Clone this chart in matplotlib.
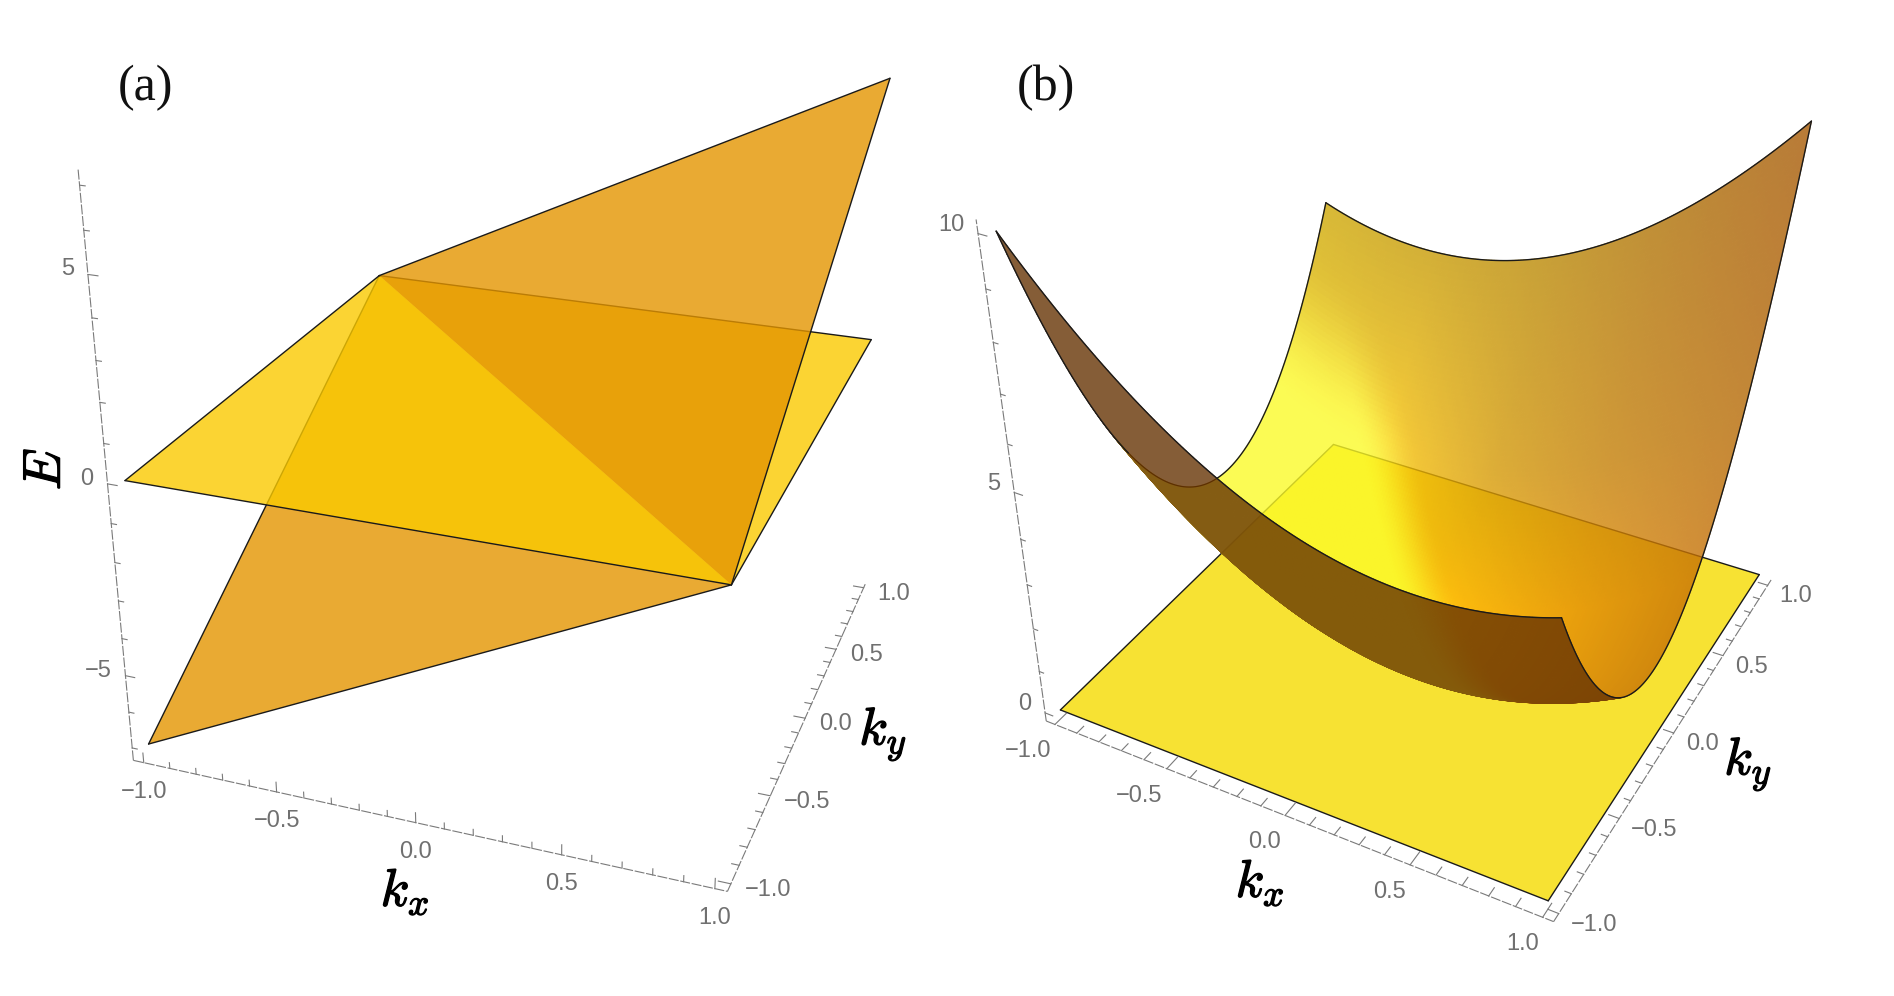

import numpy as np
import matplotlib
matplotlib.use('Agg')
import matplotlib.pyplot as plt
import matplotlib.patheffects as pe
from matplotlib.transforms import offset_copy
from mpl_toolkits.mplot3d import proj3d
from mpl_toolkits.mplot3d.art3d import Poly3DCollection

plt.rcParams['font.family'] = ['Liberation Sans', 'DejaVu Sans']
plt.rcParams['mathtext.fontset'] = 'cm'

# ---- data ----
k_limit = 1.04                       # plot-box half width in kx and ky
k_corners = [-1.0, 1.0]
k_major = [-1.0, -0.5, 0.0, 0.5, 1.0]
k_minor = [-0.9, -0.8, -0.7, -0.6, -0.4, -0.3, -0.2, -0.1,
           0.1, 0.2, 0.3, 0.4, 0.6, 0.7, 0.8, 0.9]
k_labels = ['−1.0', '−0.5', '0.0', '0.5', '1.0']

# panel (a): flat band E=0 and tilted band E = slope*(kx+ky)
a_slope = 3.5
a_E_limits = (-7.35, 7.35)
a_E_major = [-5, 0, 5]
a_E_minor = [-7, -6, -4, -3, -2, -1, 1, 2, 3, 4, 6, 7]
a_E_labels = ['−5', '0', '5']

# panel (b): flat band E=0 and E = cxx kx^2 + cyy ky^2 + cxy kx ky
b_cxx, b_cyy, b_cxy = 2.0, 6.0, 2.0
b_E_limits = (-0.2, 10.25)
b_E_major = [0, 5, 10]
b_E_minor = [1, 2, 3, 4, 6, 7, 8, 9]
b_E_labels = ['0', '5', '10']

# surface colours on the upper side of panel (b) at control points
shade_kx = [-1.0, -0.5, 0.0, 0.5, 1.0]
shade_ky = [0.2, 0.6, 1.0]
shade_R = [[250, 251, 255, 232, 200], [240, 249, 212, 195, 180], [206, 200, 186, 175, 166]]
shade_G = [[205, 200, 180, 145, 114], [200, 195, 152, 125, 105], [167, 155, 136, 112, 89]]

# ---- styles ----
ALPHA = 0.8
LAYER_FADE = 0.8**0.5
A_FLAT = (250/255, 202/255, 0, ALPHA)
A_TILT = (228/255, 149/255, 0, ALPHA)
B_FLAT = (246/255, 219/255, 0, ALPHA)
B_UNDER = (102, 51, 3)
B_YELLOW = (251, 250, 40)
EDGE = '#1a1a1a'
AXC = '#7a7a7a'
TICKC = '#707070'
FS = 17

fig = plt.figure(figsize=(18.94, 9.96), dpi=100)
W_PX, H_PX = 1894.0, 996.0


def make_axes(view, scale, tx, ty, zlim):
    el, az, ro, f, za = view
    ax = fig.add_axes([0, 0, 1, 1], projection='3d', computed_zorder=False)
    ax.set_xlim(-k_limit, k_limit)
    ax.set_ylim(-k_limit, k_limit)
    ax.set_zlim(*zlim)
    ax.set_box_aspect((1, 1, za))
    ax.view_init(el, az, ro)
    ax.set_proj_type('persp', focal_length=f)
    ax.set_axis_off()
    ax.set_xticks([]); ax.set_yticks([]); ax.set_zticks([])
    x0, y0, w, h = ax.viewLim.bounds
    wpx = w*scale
    left = tx + x0*scale
    bottom_from_top = ty - y0*scale
    ax.set_position([left/W_PX, (H_PX - bottom_from_top)/H_PX, wpx/W_PX, wpx/H_PX])
    return ax


def text_px(ax, x, y, z, s, ox, oy, **kw):
    tr = offset_copy(ax.transData, fig=fig, x=ox, y=-oy, units='dots')
    ax.text(x, y, z, s, transform=tr, color=TICKC, fontsize=FS, zorder=50, **kw)


def draw_axes(ax, zlim, E_major, E_minor, E_labels, kx_dir, ky_len, E_len, kx_off, ky_off, E_off, kx_ha):
    p = k_limit
    zb, zt = zlim
    line = dict(color=AXC, lw=0.8, zorder=40)
    dash = dict(linestyle=(0, (9, 1.5)), **line)
    ax.plot([-p, -p], [-p, -p], [zb, zt], **dash)
    ax.plot([-p, p], [-p, -p], [zb, zb], **dash)
    ax.plot([p, p], [-p, p], [zb, zb], **dash)
    for vals, frac in ((k_major, 1.0), (k_minor, 0.6)):
        for v in vals:
            d = np.array(kx_dir)*frac
            ax.plot([v, v+d[0]], [-p, -p+d[1]], [zb, zb+d[2]], **line)
            ax.plot([p, p-ky_len*frac], [v, v], [zb, zb], **line)
    for vals, frac in ((E_major, 1.0), (E_minor, 0.55)):
        for v in vals:
            ax.plot([-p, -p+E_len*frac], [-p, -p], [v, v], **line)
    for v, s in zip(k_major, k_labels):
        text_px(ax, v, -p, zb, s, *kx_off, ha=kx_ha, va='center')
        text_px(ax, p, v, zb, s, *ky_off, ha='left', va='center')
    for v, s in zip(E_major, E_labels):
        text_px(ax, -p, -p, v, s, *E_off, ha='right', va='center')


def edge3(ax, xs, ys, zs, z, color=EDGE, lw=1.0):
    ax.plot(xs, ys, zs, color=color, lw=lw, zorder=z, solid_capstyle='round')


# ======================= panel (a) =======================
axa = make_axes((23.9627, -69.7463, 0.0925, np.exp(-0.97632), 1.00444),
                5470.63, 526.40, 404.77, a_E_limits)
lo, hi = k_corners


def tilt(x, y):
    return a_slope*(x + y)


def tri(ax, pts, color, z):
    c = Poly3DCollection([pts], facecolors=[color], edgecolors='none',
                         linewidths=0, zorder=z, antialiased=True)
    ax.add_collection3d(c, autolim=False)


tilt_low = [(lo, lo, tilt(lo, lo)), (hi, lo, tilt(hi, lo)), (lo, hi, tilt(lo, hi))]
tilt_up = [(hi, hi, tilt(hi, hi)), (hi, lo, tilt(hi, lo)), (lo, hi, tilt(lo, hi))]
flat = [(lo, lo, 0), (hi, lo, 0), (hi, hi, 0), (lo, hi, 0)]
tri(axa, tilt_low, A_TILT, 2)
for P, Q in ((tilt_low[0], tilt_low[1]), (tilt_low[0], tilt_low[2])):
    edge3(axa, [P[0], Q[0]], [P[1], Q[1]], [P[2], Q[2]], 3)
tri(axa, flat, A_FLAT, 4)
for i in range(4):
    P, Q = flat[i], flat[(i+1) % 4]
    edge3(axa, [P[0], Q[0]], [P[1], Q[1]], [P[2], Q[2]], 5)
tri(axa, tilt_up, A_TILT, 6)
for P, Q in ((tilt_up[0], tilt_up[1]), (tilt_up[0], tilt_up[2])):
    edge3(axa, [P[0], Q[0]], [P[1], Q[1]], [P[2], Q[2]], 7)
draw_axes(axa, a_E_limits, a_E_major, a_E_minor, a_E_labels,
          (0, 0, 0.27), 0.04, 0.035, (0, 29), (14, 6), (-14, -5), 'center')

# ======================= panel (b) =======================
axb = make_axes((33.3576, -61.7269, 0.0636, np.exp(-0.96871), 1.00537),
                5252.85, 1424.93, 422.98, b_E_limits)


def band(x, y):
    return b_cxx*x**2 + b_cyy*y**2 + b_cxy*x*y


N = 170
gx = np.linspace(lo, hi, N+1)
gy = np.linspace(lo, hi, N+1)
X, Y = np.meshgrid(gx, gy)
Z = band(X, Y)
cx = 0.25*(X[:-1, :-1] + X[1:, :-1] + X[:-1, 1:] + X[1:, 1:])
cy = 0.25*(Y[:-1, :-1] + Y[1:, :-1] + Y[:-1, 1:] + Y[1:, 1:])

M = axb.get_proj()
u, v, _ = proj3d.proj_transform(X.ravel(), Y.ravel(), Z.ravel(), M)
U = np.asarray(u).reshape(X.shape)
V = np.asarray(v).reshape(X.shape)
# signed screen area of each cell: positive when the upper side faces the viewer
area = ((U[1:, 1:] - U[:-1, :-1])*(V[1:, :-1] - V[:-1, 1:])
        - (U[1:, :-1] - U[:-1, 1:])*(V[1:, 1:] - V[:-1, :-1]))
upper = area > 0


def bilinear(table, x, y):
    t = np.asarray(table, float)
    rows = np.stack([np.interp(x, shade_kx, t[i]) for i in range(len(shade_ky))])
    iy = np.interp(y, shade_ky, np.arange(len(shade_ky)))
    i0 = np.clip(np.floor(iy).astype(int), 0, len(shade_ky)-2)
    w = iy - i0
    ii, jj = np.indices(x.shape)
    return rows[i0, ii, jj]*(1-w) + rows[i0+1, ii, jj]*w


def smooth(v):
    v = np.clip(v, 0, 1)
    return v*v*(3-2*v)


R = bilinear(shade_R, cx, cy)
G = bilinear(shade_G, cx, cy)
Bl = np.full_like(R, 4.0)
w = smooth((0.25 - (cx + cy))/0.30)*(1 - smooth((cy - 0.55)/0.35))
R = R*(1-w) + B_YELLOW[0]*w
G = G*(1-w) + B_YELLOW[1]*w
Bl = Bl*(1-w) + B_YELLOW[2]*w
face = np.dstack([R, G, Bl, np.full_like(R, 255.0)])/255
under_rgba = np.array([*B_UNDER, 255.0])/255


def fade(img, dpi):
    out = img.copy()
    out[..., 3] *= LAYER_FADE
    return out, 0, 0


def layer(ax, mask, colors, z):
    ii, jj = np.nonzero(mask)
    polys = np.stack([
        np.stack([X[ii, jj], Y[ii, jj], Z[ii, jj]], 1),
        np.stack([X[ii, jj+1], Y[ii, jj+1], Z[ii, jj+1]], 1),
        np.stack([X[ii+1, jj+1], Y[ii+1, jj+1], Z[ii+1, jj+1]], 1),
        np.stack([X[ii+1, jj], Y[ii+1, jj], Z[ii+1, jj]], 1)], 1)
    fc = colors[ii, jj]
    c = Poly3DCollection(polys, facecolors=fc, edgecolors=fc, linewidths=0.8,
                         antialiased=True, zorder=z)
    c.set_agg_filter(fade)
    ax.add_collection3d(c, autolim=False)


fX, fY = np.meshgrid(k_corners, k_corners)
axb.plot_surface(fX, fY, 0*fX, color=B_FLAT, shade=False, linewidth=0,
                 antialiased=True, zorder=2)
for P, Q in (((lo, lo), (hi, lo)), ((hi, lo), (hi, hi)), ((hi, hi), (lo, hi)), ((lo, hi), (lo, lo))):
    edge3(axb, [P[0], Q[0]], [P[1], Q[1]], [0, 0], 3)

layer(axb, upper, face, 4)
under_faces = np.broadcast_to(under_rgba, face.shape)
t = np.linspace(lo, hi, 121)
m1, m2 = -0.45, 0.10
tm = np.linspace(m1, m2, 30)
edge3(axb, 0*tm + lo, tm, band(0*tm + lo, tm), 4.5, color='#3a2000', lw=0.9)
layer(axb, ~upper, under_faces, 5)

edge3(axb, t, 0*t + lo, band(t, 0*t + lo), 7)
edge3(axb, t, 0*t + hi, band(t, 0*t + hi), 7)
edge3(axb, 0*t + hi, t, band(0*t + hi, t), 7)
tl = np.linspace(lo, m1, 60); th = np.linspace(m2, hi, 50)
edge3(axb, 0*tl + lo, tl, band(0*tl + lo, tl), 7)
edge3(axb, 0*th + lo, th, band(0*th + lo, th), 7)

draw_axes(axb, b_E_limits, b_E_major, b_E_minor, b_E_labels,
          (0, 0.07, 0), 0.04, 0.035, (-4, 27), (12, 11), (-14, -9), 'right')

# ======================= labels =======================
serif = ['Liberation Serif', 'DejaVu Serif']
fig.text(145/W_PX, 1-88/H_PX, '(a)', family=serif, fontsize=36, ha='center', va='center', color='#111111')
fig.text(1046/W_PX, 1-88/H_PX, '(b)', family=serif, fontsize=36, ha='center', va='center', color='#111111')
stroke = [pe.withStroke(linewidth=0.9, foreground='black')]
for x, y, s, rot in ((405, 892, r'$k_x$', 0), (883, 735, r'$k_y$', 0), (1260, 883, r'$k_x$', 0),
                     (1748, 765, r'$k_y$', 0), (46, 469, r'$E$', 90)):
    fig.text(x/W_PX, 1-y/H_PX, s, fontsize=38, ha='center', va='center', rotation=rot,
             color='black', path_effects=stroke)

fig.savefig('out.png', dpi=100)
